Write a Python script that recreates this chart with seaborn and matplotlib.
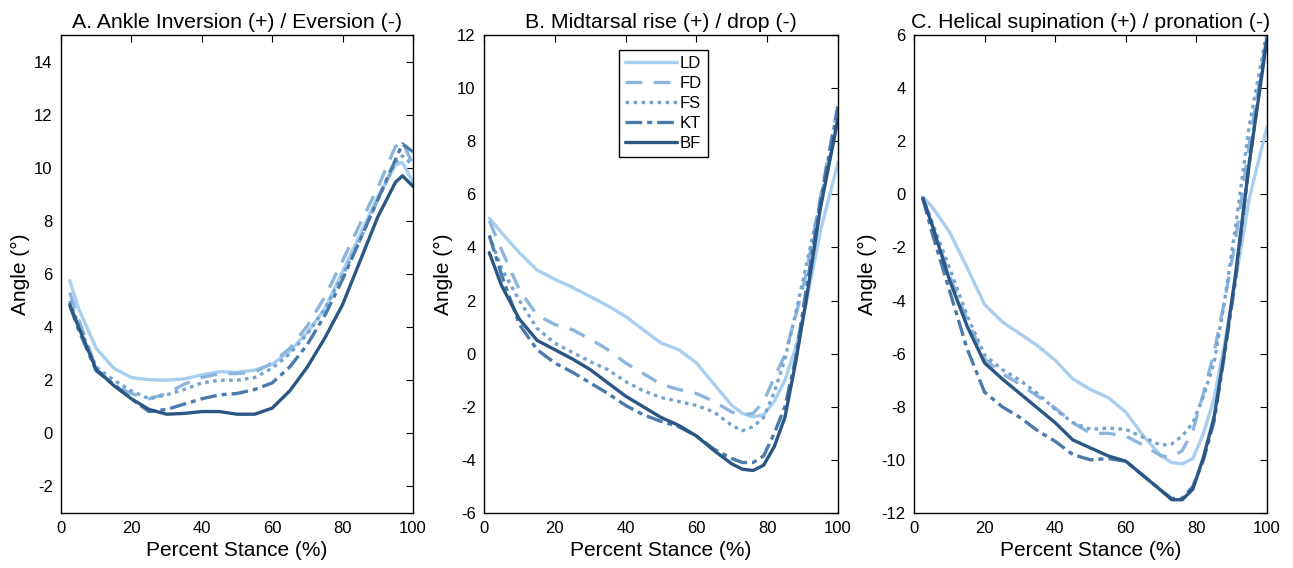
import numpy as np
import pandas as pd
import matplotlib
matplotlib.use("Agg")
import matplotlib.pyplot as plt
import seaborn as sns

sns.set_style("white")
plt.rcParams['font.family'] = ['Liberation Sans', 'DejaVu Sans']
plt.rcParams['axes.unicode_minus'] = False
plt.rcParams['text.color'] = 'black'
plt.rcParams['axes.labelcolor'] = 'black'

series = ["LD", "FD", "FS", "KT", "BF"]

# Panel A: Ankle inversion / eversion
xA = [2.5, 5, 10, 15, 20, 25, 30, 35, 40, 45, 50, 55, 60, 65, 70, 75, 80, 85, 90, 95, 97, 100]
A_LD = [5.75, 4.7, 3.2, 2.45, 2.1, 2.02, 2.0, 2.05, 2.2, 2.32, 2.3, 2.38, 2.6, 3.1, 3.8, 4.7, 6.1, 7.5, 8.9, 10.1, 10.2, 9.45]
A_FD = [5.3, 4.3, 2.45, 1.8, 1.5, 1.3, 1.5, 1.85, 2.1, 2.25, 2.25, 2.3, 2.65, 3.2, 4.05, 5.15, 6.5, 7.9, 9.25, 10.8, 11.0, 10.1]
A_FS = [5.0, 4.1, 2.5, 2.0, 1.6, 1.3, 1.45, 1.65, 1.9, 2.0, 2.0, 2.1, 2.45, 3.0, 3.75, 4.7, 5.95, 7.3, 8.8, 10.2, 10.45, 10.1]
A_KT = [4.8, 3.9, 2.35, 1.85, 1.3, 0.82, 0.9, 1.1, 1.3, 1.45, 1.5, 1.65, 1.9, 2.5, 3.35, 4.45, 5.8, 7.3, 8.8, 10.3, 10.9, 10.6]
A_BF = [4.85, 4.0, 2.4, 1.8, 1.3, 0.9, 0.72, 0.75, 0.82, 0.82, 0.72, 0.72, 0.95, 1.6, 2.5, 3.6, 4.85, 6.5, 8.15, 9.45, 9.7, 9.3]

# Panel B: Midtarsal rise / drop
xB = [1.5, 5, 10, 15, 20, 25, 30, 35, 40, 45, 50, 55, 60, 65, 70, 73, 76, 79, 82, 85, 88, 91, 95, 100]
B_LD = [5.1, 4.55, 3.8, 3.15, 2.8, 2.5, 2.15, 1.8, 1.4, 0.9, 0.4, 0.15, -0.35, -1.15, -1.95, -2.25, -2.38, -2.3, -1.8, -1.0, 0.2, 1.9, 4.6, 7.2]
B_FD = [5.0, 3.9, 2.4, 1.45, 1.1, 0.9, 0.55, 0.15, -0.35, -0.75, -1.15, -1.35, -1.5, -1.8, -2.2, -2.3, -2.25, -1.8, -0.9, -0.05, 1.4, 3.0, 5.85, 9.4]
B_FS = [4.45, 3.2, 2.0, 0.95, 0.4, 0.05, -0.3, -0.6, -1.05, -1.4, -1.65, -1.8, -1.95, -2.2, -2.7, -2.9, -2.75, -2.4, -1.45, -0.2, 1.5, 3.3, 5.7, 8.85]
B_KT = [4.45, 2.95, 1.1, 0.15, -0.35, -0.7, -1.1, -1.5, -1.95, -2.3, -2.55, -2.75, -3.1, -3.6, -3.95, -4.1, -4.1, -3.85, -3.0, -2.0, -0.2, 2.4, 5.7, 9.3]
B_BF = [3.8, 2.55, 1.3, 0.5, 0.15, -0.2, -0.6, -1.1, -1.6, -2.0, -2.4, -2.7, -3.1, -3.65, -4.15, -4.35, -4.4, -4.2, -3.5, -2.4, -0.35, 2.0, 5.45, 8.85]

# Panel C: Helical supination / pronation
xC = [2.5, 5, 10, 15, 20, 25, 30, 35, 40, 45, 50, 55, 60, 65, 70, 73, 76, 79, 82, 85, 88, 91, 95, 100]
C_LD = [-0.1, -0.45, -1.4, -2.75, -4.15, -4.8, -5.25, -5.7, -6.25, -6.95, -7.35, -7.65, -8.2, -9.1, -9.85, -10.1, -10.15, -9.95, -9.0, -7.7, -5.6, -3.3, -0.15, 2.55]
C_FD = [-0.1, -1.1, -3.05, -4.7, -6.2, -6.75, -7.15, -7.6, -8.05, -8.6, -9.0, -9.0, -9.1, -9.45, -9.85, -9.9, -9.65, -8.9, -7.5, -5.95, -4.0, -1.8, 1.9, 6.0]
C_FS = [-0.1, -1.0, -2.75, -4.55, -6.05, -6.6, -7.0, -7.5, -8.1, -8.6, -8.85, -8.8, -8.85, -9.15, -9.45, -9.4, -9.1, -8.6, -7.6, -6.35, -4.0, -1.3, 2.6, 6.15]
C_KT = [-0.15, -1.4, -3.6, -5.8, -7.45, -8.0, -8.4, -8.9, -9.3, -9.8, -10.0, -9.95, -10.05, -10.6, -11.15, -11.45, -11.45, -11.0, -10.0, -8.55, -6.0, -3.3, 1.2, 6.0]
C_BF = [-0.15, -1.1, -3.2, -4.95, -6.35, -6.95, -7.5, -8.05, -8.6, -9.25, -9.55, -9.85, -10.05, -10.6, -11.15, -11.5, -11.5, -11.1, -9.9, -8.4, -5.9, -3.1, 1.2, 5.85]

titles = ["A. Ankle Inversion (+) / Eversion (-)",
          "B. Midtarsal rise (+) / drop (-)",
          "C. Helical supination (+) / pronation (-)"]
ylims = [(-3, 15), (-6, 12), (-12, 6)]
yticks = [np.arange(-2, 15, 2), np.arange(-6, 13, 2), np.arange(-12, 7, 2)]

colors = {"LD": "#a8cef0", "FD": "#8cb5de", "FS": "#76a4d0", "KT": "#4b7bab", "BF": "#2c5784"}
dashes = {"LD": None, "FD": (5, 3.5), "FS": (1.1, 1.3), "KT": (5, 1.5, 1.5, 1.5), "BF": None}

panels = [
    (xA, [A_LD, A_FD, A_FS, A_KT, A_BF]),
    (xB, [B_LD, B_FD, B_FS, B_KT, B_BF]),
    (xC, [C_LD, C_FD, C_FS, C_KT, C_BF]),
]

fig = plt.figure(figsize=(12.93, 5.68), dpi=100)
lefts = [61 / 1293, 484 / 1293, 914 / 1293]
widths = [352 / 1293, 354 / 1293, 353 / 1293]
bottom = 1 - 513 / 568
height = 478 / 568

for i, (xs, ys) in enumerate(panels):
    ax = fig.add_axes([lefts[i], bottom, widths[i], height])
    for name, yv in zip(series, ys):
        df = pd.DataFrame({"x": xs, "y": yv})
        sns.lineplot(data=df, x="x", y="y", ax=ax, color=colors[name], lw=2.4,
                     label=name, legend=False)
        ln = ax.lines[-1]
        ln.set_solid_joinstyle("round")
        if dashes[name] is not None:
            ln.set_dashes(dashes[name])
            ln.set_dash_capstyle("butt")
    ax.set_xlim(0, 100)
    ax.set_ylim(*ylims[i])
    ax.set_xticks(np.arange(0, 101, 20))
    ax.set_yticks(yticks[i])
    ax.tick_params(direction="in", length=5, width=0.8, top=True, right=True,
                   labelsize=12, pad=6, colors="black")
    for s in ax.spines.values():
        s.set_color("black")
        s.set_linewidth(1.0)
    ax.set_title(titles[i], fontsize=15.3, pad=5)
    ax.set_xlabel("Percent Stance (%)", fontsize=15, labelpad=3)
    ax.set_ylabel("Angle (°)", fontsize=15, labelpad=3)
    if i == 1:
        leg = ax.legend(loc="upper left", bbox_to_anchor=(0.382, 0.968), fontsize=12,
                        frameon=True, fancybox=False, framealpha=1, edgecolor="black",
                        handlelength=3.1, handletextpad=0.2, borderpad=0.35,
                        labelspacing=0.3, borderaxespad=0)
        leg.get_frame().set_linewidth(1.0)

fig.savefig("out.png", dpi=100)
